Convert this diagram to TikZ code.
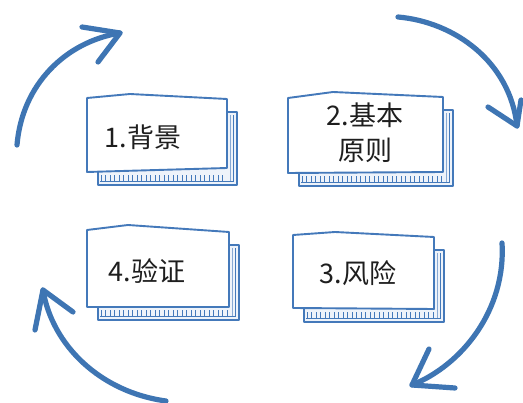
\documentclass[tikz,border=0pt]{standalone}
\usepackage{fontspec}
\newfontfamily\cjk{Noto Sans CJK SC}
\definecolor{arrowblue}{HTML}{3E75B3}
\definecolor{cardblue}{HTML}{4479BA}
\definecolor{backfill}{HTML}{EEF3FA}
\definecolor{txt}{HTML}{1E1E1E}
\tikzset{
  arcline/.style={draw=arrowblue, line width=5.2pt, line cap=round, line join=round},
  headline/.style={draw=arrowblue, line width=5.2pt, line cap=round, line join=round},
  cardline/.style={draw=cardblue, line width=1.9pt, line join=round},
  thinline/.style={draw=cardblue, line width=0.9pt},
  lbl/.style={font=\cjk\fontsize{27}{35}\selectfont, text=txt, align=center, inner sep=0pt}
}
\newcommand{\cardshape}[8]{%
  \pgfmathsetmacro{\cBL}{#1+11}%
  \pgfmathsetmacro{\cBR}{#5+10}%
  \pgfmathsetmacro{\cBT}{#6+13}%
  \pgfmathsetmacro{\cFB}{max(#7,#8)}%
  \pgfmathsetmacro{\cBB}{\cFB+13}%
  \pgfmathsetmacro{\cIL}{\cBB-4}%
  \pgfmathsetmacro{\cIR}{\cBR-4}%
  \pgfmathsetmacro{\cIRR}{\cBR-7}%
  \pgfmathsetmacro{\cTS}{\cBL+3}%
  \pgfmathsetmacro{\cTN}{\cBL+7.5}%
  \pgfmathsetmacro{\cTE}{#5-1}%
  \fill[backfill] (\cBL,\cBT) rectangle (\cBR,\cBB);
  \draw[cardline] (\cBL,\cBT) rectangle (\cBR,\cBB);
  \draw[thinline] (\cBL+2,\cIL) -- (\cIR,\cIL) -- (\cIR,\cBT+3);
  \draw[thinline, draw opacity=0.6] (\cIRR,\cBT+3) -- (\cIRR,\cIL);
  \foreach \t in {\cTS,\cTN,...,\cTE} \draw[thinline] (\t,\cIL) -- (\t,\cFB+3);
  \draw[cardline, fill=white] (#1,#2) -- (#3,#4) -- (#5,#6) -- (#5,#7) -- (#1,#8) -- cycle;
}
\begin{document}
\begin{tikzpicture}[x=1pt,y=-1pt]
\useasboundingbox (0,0) rectangle (523,403);
\fill[white] (0,0) rectangle (523,403);

% cards
\cardshape{87}{98}{130}{94}{227}{99}{168}{172}
\cardshape{288}{98}{333}{92}{443}{97}{172}{173}
\cardshape{87}{230}{128}{225}{229}{232}{307}{307}
\cardshape{293}{235}{335}{232}{434}{237}{309}{308}

\node[lbl] (t1) at (143,137) {1.背景};
\node[lbl] (t2) at (365,133) {2.基本\\原则};
\node[lbl] (t4) at (147,271) {4.验证};
\node[lbl] (t3) at (358,273) {3.风险};

% arrows
\coordinate (a1s) at (17,145);
\coordinate (a1t) at (120,33);
\draw[arcline] (a1s) .. controls (22,85) and (65,42) .. (a1t);
\draw[headline] (82,27) -- (a1t) -- (98,62);

\coordinate (a2s) at (398,17);
\coordinate (a2t) at (517,126);
\draw[arcline] (a2s) .. controls (455,22) and (510,62) .. (a2t);
\draw[headline] (488,107) -- (a2t) -- (521,100);

\coordinate (a3s) at (502,243);
\coordinate (a3t) at (412,385);
\draw[arcline] (a3s) .. controls (506,310) and (462,365) .. (a3t);
\draw[headline] (429,349) -- (a3t) -- (455,388);

\coordinate (a4s) at (166,401);
\coordinate (a4t) at (43,290);
\draw[arcline] (a4s) .. controls (100,392) and (52,345) .. (a4t);
\draw[headline] (35,330) -- (a4t) -- (73,312);
\end{tikzpicture}
\end{document}
